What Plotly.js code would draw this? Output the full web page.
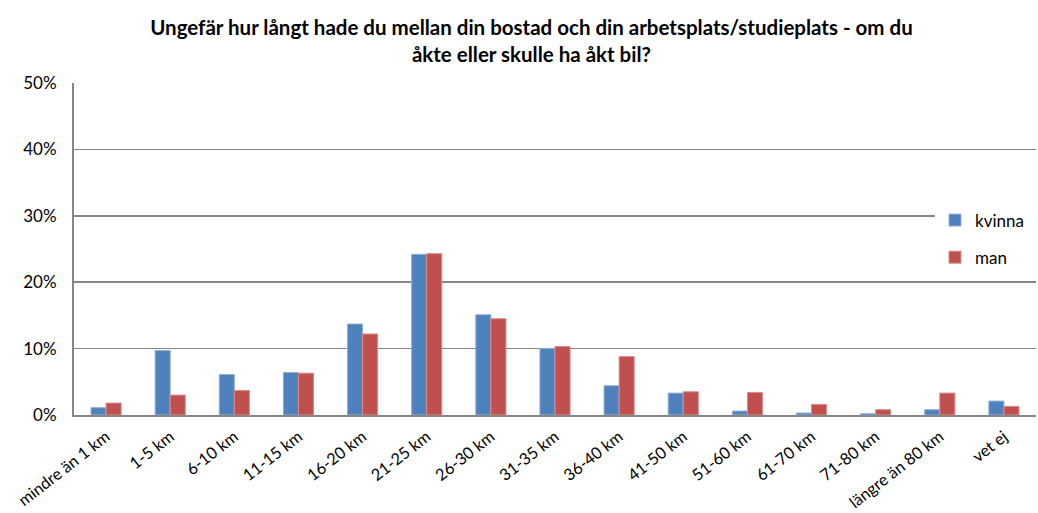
<!DOCTYPE html>
<html>
<head>
<meta charset="utf-8">
<script src="https://cdn.plot.ly/plotly-3.0.1.min.js"></script>
<style>html,body{margin:0;padding:0;background:#fff;}#chart{width:1038px;height:513px;}</style>
</head>
<body>
<div id="chart"></div>
<script>
const categories = ["mindre än 1 km","1-5 km","6-10 km","11-15 km","16-20 km","21-25 km","26-30 km","31-35 km","36-40 km","41-50 km","51-60 km","61-70 km","71-80 km","längre än 80 km","vet ej"];
const kvinna = [0.011,0.097,0.061,0.064,0.137,0.242,0.151,0.100,0.044,0.033,0.006,0.003,0.002,0.008,0.021];
const man    = [0.018,0.030,0.037,0.063,0.122,0.243,0.145,0.103,0.088,0.035,0.034,0.016,0.008,0.033,0.013];
const yTicks = [0,0.1,0.2,0.3,0.4,0.5];
const yTickText = ["0%","10%","20%","30%","40%","50%"];

const FONT = "Lato, 'Open Sans', sans-serif";
const traces = [
  {type:'bar', name:'kvinna', x:categories, y:kvinna, legendgroup:'a',
   marker:{color:'#4F81BD', line:{color:'#8fb0d8', width:1}}},
  {type:'bar', name:'man', x:categories, y:man, legendgroup:'b',
   marker:{color:'#C0504D', line:{color:'#d98c8a', width:1}}}
];
const layout = {
  width:1038, height:513,
  margin:{l:74, r:2, t:83, b:98},
  paper_bgcolor:'#fff', plot_bgcolor:'#fff',
  font:{family:FONT, size:17, color:'#000'},
  title:{text:'<b>Ungefär hur långt hade du mellan din bostad och din arbetsplats/studieplats - om du<br>åkte eller skulle ha åkt bil?</b>',
         font:{family:FONT, size:20.5, color:'#000'}, xref:'container', yref:'container',
         x:0.512, xanchor:'center', y:0.932, yanchor:'top'},
  bargap:0.53, bargroupgap:0,
  xaxis:{type:'category', tickangle:-38, showline:true, linecolor:'#868686', linewidth:2,
         ticks:'', showgrid:false, tickfont:{size:16.3, family:FONT}, automargin:false, ticklabelstandoff:4},
  yaxis:{range:[0,0.5], tickvals:yTicks, ticktext:yTickText, showline:true, linecolor:'#868686', linewidth:2,
         showgrid:true, gridcolor:'#868686', gridwidth:1.5, zeroline:false, ticks:'', ticklen:0,
         tickfont:{size:17, family:FONT}, automargin:false, ticklabelstandoff:12},
  legend:{x:0.895, xanchor:'left', y:0.64, yanchor:'top', bgcolor:'rgba(0,0,0,0)', borderwidth:0,
          font:{size:17, family:FONT}, tracegroupgap:12, traceorder:'grouped'},
  shapes:[{type:'rect', xref:'paper', yref:'paper', x0:0.895, x1:1.0, y0:0.42, y1:0.66,
           fillcolor:'#fff', line:{width:0}, layer:'above'}],
  showlegend:true
};
Plotly.newPlot('chart', traces, layout, {displayModeBar:false, staticPlot:true});
</script>
</body>
</html>
